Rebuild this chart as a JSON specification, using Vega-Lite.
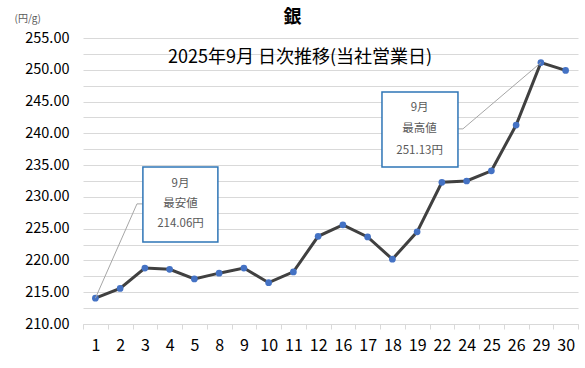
{
  "$schema": "https://vega.github.io/schema/vega-lite/v6.json",
  "width": 495,
  "height": 286,
  "autosize": {"type": "none"},
  "padding": {"left": 83, "top": 38, "right": 7, "bottom": 44},
  "background": "white",
  "config": {
    "font": "Noto Sans CJK JP",
    "view": {"stroke": null}
  },
  "title": {
    "text": "銀",
    "fontSize": 18,
    "fontWeight": "bold",
    "color": "#000000",
    "anchor": "middle",
    "frame": "group",
    "dx": -38,
    "offset": -14
  },
  "datasets": {
    "prices": [
      {"day": "1", "price": 214.06},
      {"day": "2", "price": 215.6},
      {"day": "3", "price": 218.8},
      {"day": "4", "price": 218.6},
      {"day": "5", "price": 217.1},
      {"day": "8", "price": 218.0},
      {"day": "9", "price": 218.8},
      {"day": "10", "price": 216.5},
      {"day": "11", "price": 218.2},
      {"day": "12", "price": 223.8},
      {"day": "16", "price": 225.6},
      {"day": "17", "price": 223.7},
      {"day": "18", "price": 220.2},
      {"day": "19", "price": 224.5},
      {"day": "22", "price": 232.3},
      {"day": "24", "price": 232.5},
      {"day": "25", "price": 234.1},
      {"day": "26", "price": 241.3},
      {"day": "29", "price": 251.13},
      {"day": "30", "price": 249.9}
    ],
    "boxes": [
      {"x": 2.42, "x2": 5.45, "price": 234.7, "price2": 222.9},
      {"x": 12.08, "x2": 15.15, "price": 246.5, "price2": 234.7}
    ],
    "connectors": [
      {"g": "min", "o": 1, "x": 0.5, "price": 214.06},
      {"g": "min", "o": 2, "x": 2.18, "price": 228.9},
      {"g": "min", "o": 3, "x": 2.42, "price": 228.9},
      {"g": "max", "o": 1, "x": 15.15, "price": 240.7},
      {"g": "max", "o": 2, "x": 15.35, "price": 240.7},
      {"g": "max", "o": 3, "x": 18.5, "price": 251.13}
    ],
    "labels": [
      {"x": 3.94, "price": 232.0, "t": "9月"},
      {"x": 3.94, "price": 228.9, "t": "最安値"},
      {"x": 3.94, "price": 225.7, "t": "214.06円"},
      {"x": 13.6, "price": 244.0, "t": "9月"},
      {"x": 13.6, "price": 240.7, "t": "最高値"},
      {"x": 13.6, "price": 237.2, "t": "251.13円"}
    ],
    "subtitle": [
      {"x": 8.77, "price": 251.85, "t": "2025年9月 日次推移(当社営業日)"}
    ]
  },
  "encoding": {
    "y": {
      "field": "price", "type": "quantitative",
      "scale": {"domain": [210, 255], "nice": false, "zero": false},
      "axis": {
        "title": "(円/g)", "titleAngle": 0, "titleAlign": "left", "titleBaseline": "middle",
        "titleX": -69, "titleY": -20, "titleFontSize": 10, "titleFontWeight": "normal", "titleColor": "#595959",
        "values": [210, 212.5, 215, 217.5, 220, 222.5, 225, 227.5, 230, 232.5, 235, 237.5, 240, 242.5, 245, 247.5, 250, 252.5, 255],
        "labelExpr": "datum.value % 5 === 0 ? format(datum.value, '.2f') : ''",
        "labelOverlap": false,
        "labelFontSize": 14.5, "labelColor": "#000000", "labelPadding": 14,
        "domain": false, "ticks": false,
        "grid": true, "gridColor": "#d9d9d9", "gridWidth": 1
      }
    }
  },
  "layer": [
    {
      "data": {"name": "prices"},
      "mark": {"type": "line", "color": "#404040", "strokeWidth": 3},
      "encoding": {
        "x": {
          "field": "day", "type": "nominal", "sort": null,
          "scale": {"paddingInner": 0, "paddingOuter": 0},
          "axis": {
            "title": null, "labelAngle": 0, "tickBand": "extent",
            "domainColor": "#d9d9d9", "tickColor": "#d9d9d9", "tickSize": 5,
            "labelFontSize": 16, "labelColor": "#000000", "labelPadding": 8,
            "grid": false
          }
        }
      }
    },
    {
      "data": {"name": "prices"},
      "mark": {"type": "point", "filled": true, "color": "#4472C4", "size": 45, "opacity": 1},
      "encoding": {
        "x": {"field": "day", "type": "nominal", "sort": null, "scale": {"paddingInner": 0, "paddingOuter": 0}, "axis": null}
      }
    },
    {
      "data": {"name": "connectors"},
      "mark": {"type": "line", "color": "#a6a6a6", "strokeWidth": 1},
      "encoding": {
        "x": {"field": "x", "type": "quantitative", "scale": {"domain": [0, 20], "nice": false, "zero": false}, "axis": null},
        "detail": {"field": "g"},
        "order": {"field": "o"}
      }
    },
    {
      "data": {"name": "boxes"},
      "mark": {"type": "rect", "fill": "white", "stroke": "#2E75B6", "strokeWidth": 1.5},
      "encoding": {
        "x": {"field": "x", "type": "quantitative", "scale": {"domain": [0, 20], "nice": false, "zero": false}, "axis": null},
        "x2": {"field": "x2"},
        "y2": {"field": "price2"}
      }
    },
    {
      "data": {"name": "labels"},
      "mark": {"type": "text", "color": "#595959", "fontSize": 11.5, "align": "center", "baseline": "middle"},
      "encoding": {
        "x": {"field": "x", "type": "quantitative", "scale": {"domain": [0, 20], "nice": false, "zero": false}, "axis": null},
        "text": {"field": "t"}
      }
    },
    {
      "data": {"name": "subtitle"},
      "mark": {"type": "text", "color": "#000000", "fontSize": 18, "align": "center", "baseline": "middle"},
      "encoding": {
        "x": {"field": "x", "type": "quantitative", "scale": {"domain": [0, 20], "nice": false, "zero": false}, "axis": null},
        "text": {"field": "t"}
      }
    }
  ],
  "resolve": {"scale": {"x": "independent"}}
}
